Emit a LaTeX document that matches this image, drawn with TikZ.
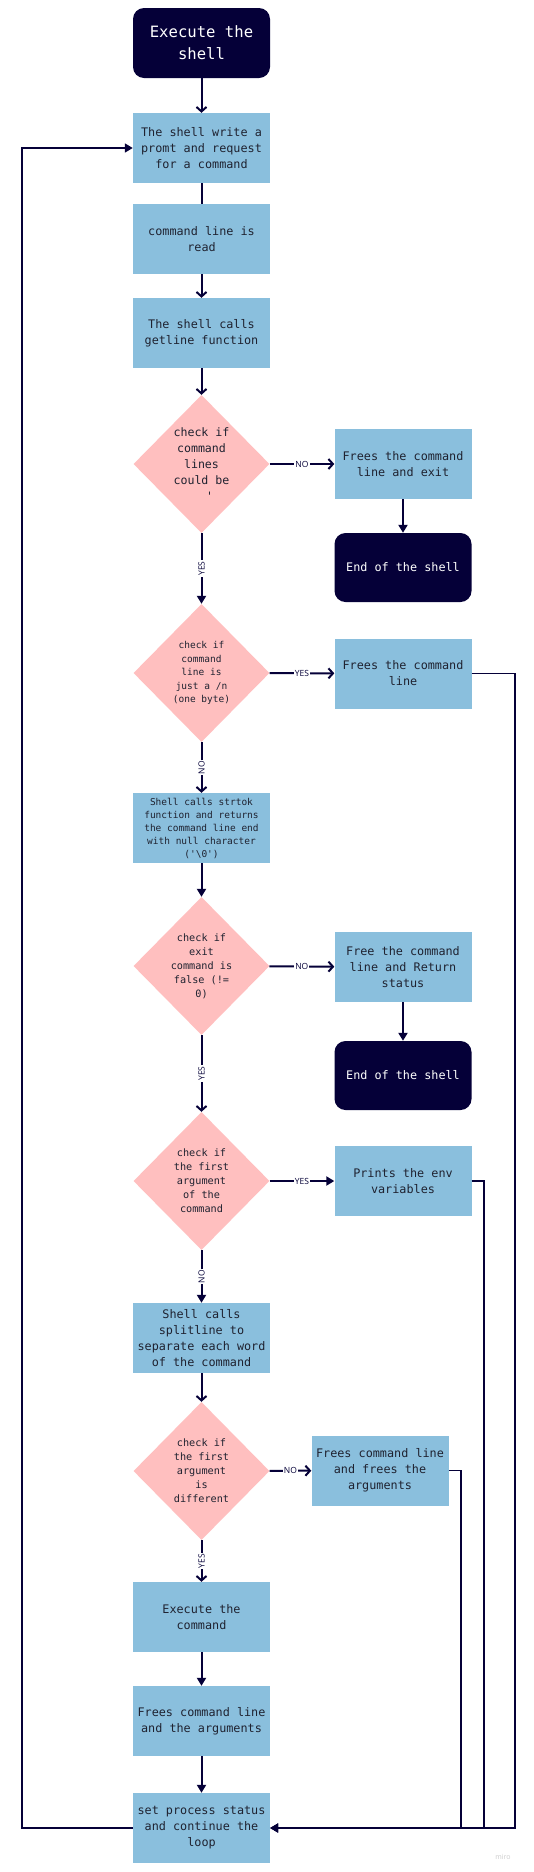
\documentclass[tikz,border=0pt]{standalone}
\usepackage{fontspec}
\setmonofont{DejaVu Sans Mono}
\setsansfont{Open Sans}
\usetikzlibrary{shapes.geometric,arrows.meta}
\definecolor{navyink}{HTML}{050038}
\definecolor{boxblue}{HTML}{8ABFDD}
\definecolor{decpink}{HTML}{FFBFBF}
\definecolor{boxtext}{HTML}{1F2230}

\begin{document}
\begin{tikzpicture}[x=1pt,y=-1pt,
    procbox/.style={rectangle,fill=boxblue,minimum width=137pt,minimum height=70pt,inner sep=0pt,align=center,text=boxtext,font=\ttfamily\fontsize{11.8}{16}\selectfont},
    endbox/.style={rectangle,rounded corners=11pt,fill=navyink,minimum width=137pt,minimum height=69pt,inner sep=0pt,align=center,text=white,font=\ttfamily\fontsize{11.8}{16}\selectfont},
    decision/.style={diamond,aspect=1,fill=decpink,minimum width=136pt,minimum height=138pt,inner sep=0pt,align=center,text=boxtext},
    barb/.style={draw=navyink,line width=2pt,-{Straight Barb[length=4.5pt,width=10pt,line width=2pt]}},
    filled/.style={draw=navyink,line width=2pt,-{Triangle[length=8pt,width=9pt]}},
    answer/.style={font=\sffamily\fontsize{8.5}{10}\selectfont,fill=white,inner sep=1pt,text=navyink}]
    \useasboundingbox (0,0) rectangle (534,1872);
    \fill[white] (0,0) rectangle (534,1872);

    \node[endbox,minimum height=70pt,font=\ttfamily\fontsize{15.6}{21.7}\selectfont] (start) at (201.5,43) {Execute the\\shell};
    \node[procbox] (prompt) at (201.5,148) {The shell write a\\promt and request\\for a command};
    \node[procbox] (read) at (201.5,239) {command line is\\read};
    \node[procbox] (getline) at (201.5,333) {The shell calls\\getline function};
    \node[decision,font=\ttfamily\fontsize{11.6}{16}\selectfont] (ckread) at (201.5,464) {check if\\command\\lines\\could be\\\hspace*{1.4em}'};
    \node[procbox] (freeexit) at (403,464) {Frees the command\\line and exit};
    \node[endbox] (endA) at (403,567.5) {End of the shell};
    \node[decision,font=\ttfamily\fontsize{9.5}{13.5}\selectfont] (cknl) at (201.5,673) {check if\\command\\line is\\just a /n\\(one byte)};
    \node[procbox] (freeline) at (403,673.5) {Frees the command\\line};
    \node[procbox,font=\ttfamily\fontsize{9.5}{13}\selectfont] (strtok) at (201.5,828) {Shell calls strtok\\function and returns\\the command line end\\with null character\\('\textbackslash 0')};
    \node[decision,font=\ttfamily\fontsize{10.2}{14}\selectfont] (ckexit) at (201.5,966) {check if\\exit\\command is\\false (!=\\0)};
    \node[procbox] (freestatus) at (403,967) {Free the command\\line and Return\\status};
    \node[endbox] (endB) at (403,1075.5) {End of the shell};
    \node[decision,font=\ttfamily\fontsize{10.2}{14}\selectfont] (ckenv) at (201.5,1181) {check if\\the first\\argument\\of the\\command};
    \node[procbox] (printenv) at (403,1181) {Prints the env\\variables};
    \node[procbox] (split) at (201.5,1338) {Shell calls\\splitline to\\separate each word\\of the command};
    \node[decision,font=\ttfamily\fontsize{10.2}{14}\selectfont] (ckarg) at (201.5,1471) {check if\\the first\\argument\\is\\different};
    \node[procbox] (freeargs) at (380,1470.5) {Frees command line\\and frees the\\arguments};
    \node[procbox] (exec) at (201.5,1617) {Execute the\\command};
    \node[procbox] (freeall) at (201.5,1721) {Frees command line\\and the arguments};
    \node[procbox] (status) at (201.5,1828) {set process status\\and continue the\\loop};
    \node[font=\sffamily\fontsize{7}{8}\selectfont,text=black!20] (miro) at (503,1857) {miro};

    \draw[barb] (start) -- (prompt);
    \draw[draw=navyink,line width=2pt] (prompt) -- (read);
    \draw[barb] (read) -- (getline);
    \draw[barb] (getline) -- (ckread);
    \draw[barb] (ckread) -- node[answer]{NO} (freeexit);
    \draw[filled] (freeexit) -- (endA);
    \draw[filled] (ckread) -- node[answer,rotate=90]{YES} (cknl);
    \draw[barb] (cknl) -- node[answer]{YES} (freeline);
    \draw[barb] (cknl) -- node[answer,rotate=90]{NO} (strtok);
    \draw[filled] (strtok) -- (ckexit);
    \draw[barb] (ckexit) -- node[answer]{NO} (freestatus);
    \draw[filled] (freestatus) -- (endB);
    \draw[barb] (ckexit) -- node[answer,rotate=90]{YES} (ckenv);
    \draw[filled] (ckenv) -- node[answer]{YES} (printenv);
    \draw[filled] (ckenv) -- node[answer,rotate=90]{NO} (split);
    \draw[barb] (split) -- (ckarg);
    \draw[barb] (ckarg) -- node[answer]{NO} (freeargs);
    \draw[barb] (ckarg) -- node[answer,rotate=90]{YES} (exec);
    \draw[filled] (exec) -- (freeall);
    \draw[filled] (freeall) -- (status);

    \draw[filled,line width=1.5pt] (freeline.east) -- ++(43.5,0) |- (status.east);
    \draw[filled,line width=1.5pt] (printenv.east) -- ++(12.5,0) |- (status.east);
    \draw[filled,line width=1.5pt] (freeargs.east) -- ++(12.5,0) |- (status.east);
    \draw[filled,line width=1.5pt] (status.west) -- ++(-111,0) |- (prompt.west);
\end{tikzpicture}
\end{document}
